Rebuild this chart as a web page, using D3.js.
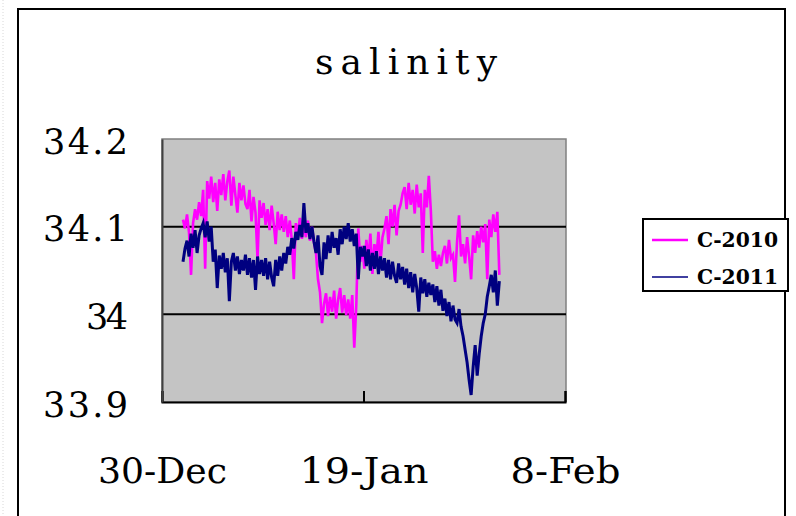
<!DOCTYPE html>
<html>
<head>
<meta charset="utf-8">
<script src="https://cdn.jsdelivr.net/npm/d3@7/dist/d3.min.js"></script>
<style>
  html, body { margin: 0; padding: 0; background: #ffffff; }
  svg { display: block; }
  text { font-family: "DejaVu Serif", "Liberation Serif", serif; fill: #000; }
</style>
</head>
<body>
<svg id="chart" width="796" height="516"></svg>
<script>
// Salinity records, one reading every 4.8 hours from 1 Jan 02:00
const seriesNames = ["C-2010", "C-2011"];
const seriesColors = ["#ff00ff", "#000080"];
const startTime = new Date(2011, 0, 1, 2, 0);
const stepHours = 4.8;

const c2010 = [
  34.108, 34.098, 34.114, 34.093, 34.045, 34.104, 34.120, 34.108, 34.128, 34.112,
  34.142, 34.052, 34.152, 34.132, 34.157, 34.128, 34.150, 34.118, 34.154, 34.136,
  34.160, 34.130, 34.152, 34.164, 34.124, 34.157, 34.136, 34.116, 34.150, 34.130,
  34.147, 34.126, 34.120, 34.142, 34.106, 34.134, 34.116, 34.062, 34.130, 34.110,
  34.127, 34.102, 34.120, 34.096, 34.124, 34.104, 34.080, 34.117, 34.096, 34.114,
  34.094, 34.112, 34.088, 34.107, 34.085, 34.040, 34.104, 34.090, 34.110, 34.086,
  34.102, 34.088, 34.107, 34.084, 34.100, 34.082, 34.070, 34.040, 34.025, 33.990,
  34.012, 34.024, 33.998, 34.020, 34.003, 34.027, 33.995, 34.017, 34.030, 34.002,
  34.022, 33.999, 34.017, 33.995, 34.022, 33.962, 34.010, 34.098, 34.060, 34.078,
  34.052, 34.085, 34.062, 34.092, 34.046, 34.080, 34.066, 34.094, 34.058, 34.088,
  34.098, 34.112, 34.080, 34.120, 34.100, 34.125, 34.090, 34.118, 34.125, 34.138,
  34.145, 34.120, 34.150, 34.125, 34.142, 34.115, 34.148, 34.122, 34.138, 34.070,
  34.142, 34.122, 34.158, 34.118, 34.060, 34.072, 34.052, 34.068, 34.055, 34.070,
  34.078, 34.058, 34.085, 34.064, 34.068, 34.037, 34.082, 34.113, 34.066, 34.080,
  34.058, 34.088, 34.066, 34.040, 34.090, 34.070, 34.095, 34.076, 34.100, 34.082,
  34.103, 34.040, 34.108, 34.088, 34.114, 34.094, 34.117, 34.045
];

const c2011 = [
  34.060, 34.075, 34.084, 34.066, 34.092, 34.076, 34.096, 34.070, 34.090, 34.098,
  34.104, 34.088, 34.106, 34.083, 34.100, 34.060, 34.074, 34.030, 34.067, 34.052,
  34.070, 34.048, 34.064, 34.015, 34.060, 34.070, 34.050, 34.066, 34.046, 34.062,
  34.050, 34.068, 34.045, 34.064, 34.042, 34.062, 34.028, 34.066, 34.046, 34.062,
  34.044, 34.064, 34.040, 34.060, 34.042, 34.032, 34.062, 34.044, 34.066, 34.050,
  34.070, 34.058, 34.077, 34.068, 34.087, 34.075, 34.094, 34.085, 34.102, 34.088,
  34.127, 34.093, 34.104, 34.086, 34.100, 34.083, 34.070, 34.090, 34.055, 34.045,
  34.082, 34.063, 34.090, 34.070, 34.094, 34.076, 34.087, 34.068, 34.097, 34.080,
  34.100, 34.086, 34.104, 34.083, 34.097, 34.078, 34.092, 34.040, 34.077, 34.066,
  34.078, 34.055, 34.074, 34.050, 34.070, 34.052, 34.072, 34.046, 34.066, 34.050,
  34.064, 34.042, 34.062, 34.040, 34.060, 34.044, 34.036, 34.058, 34.040, 34.054,
  34.034, 34.052, 34.030, 34.048, 34.025, 34.046, 34.030, 34.003, 34.042, 34.024,
  34.040, 34.020, 34.036, 34.022, 34.034, 34.014, 34.032, 34.010, 34.028, 34.004,
  34.018, 33.998, 34.014, 33.992, 34.010, 33.994, 33.990, 34.006, 33.986, 33.975,
  33.960, 33.945, 33.925, 33.908, 33.940, 33.965, 33.930, 33.955, 33.975, 33.990,
  34.000, 34.020, 34.032, 34.045, 34.025, 34.050, 34.010, 34.038
];

const yTicks = [33.9, 34.0, 34.1, 34.2];
const yTickLabels = ["33.9", "34", "34.1", "34.2"];
const xTicks = [new Date(2010, 11, 30), new Date(2011, 0, 19), new Date(2011, 1, 8)];
const xTickLabels = ["30-Dec", "19-Jan", "8-Feb"];

const svg = d3.select("#chart");

// page edge and chart frame
svg.append("line").attr("x1", 3).attr("x2", 3).attr("y1", 0).attr("y2", 516)
  .attr("stroke", "#d8d8d8").attr("stroke-dasharray", "1,2");
svg.append("rect").attr("x", 18).attr("y", 9).attr("width", 767).attr("height", 520)
  .attr("fill", "#fff").attr("stroke", "#000").attr("stroke-width", 2);

const plot = { left: 162, right: 566, top: 139, bottom: 402 };

const x = d3.scaleTime()
  .domain([xTicks[0], xTicks[2]])
  .range([plot.left, 565]);
const y = d3.scaleLinear()
  .domain([33.9, 34.2])
  .range([plot.bottom, plot.top]);

// plot background
svg.append("rect")
  .attr("x", plot.left).attr("y", plot.top)
  .attr("width", plot.right - plot.left).attr("height", plot.bottom - plot.top)
  .attr("fill", "#c4c4c4").attr("stroke", "#808080").attr("stroke-width", 1.5);

// gridlines
svg.append("g").selectAll("line")
  .data([34.0, 34.1])
  .join("line")
  .attr("x1", plot.left).attr("x2", plot.right)
  .attr("y1", d => y(d)).attr("y2", d => y(d))
  .attr("stroke", "#000").attr("stroke-width", 2);

// series
const toPoints = vals => vals.map((v, i) => ({
  date: new Date(startTime.getTime() + i * stepHours * 3600 * 1000),
  v
}));
const line = d3.line().x(d => x(d.date)).y(d => y(d.v));
[c2010, c2011].forEach((vals, k) => {
  svg.append("path")
    .datum(toPoints(vals))
    .attr("fill", "none")
    .attr("stroke", seriesColors[k])
    .attr("stroke-width", k === 0 ? 2.6 : 3)
    .attr("stroke-linejoin", "miter")
    .attr("d", line);
});

// axes
const xAxis = d3.axisBottom(x)
  .tickValues(xTicks)
  .tickSize(-11)
  .tickFormat((d, i) => xTickLabels[i]);
const gx = svg.append("g").attr("transform", `translate(0,${plot.bottom})`).call(xAxis);
gx.select(".domain").attr("stroke", "#000").attr("stroke-width", 2);
gx.selectAll(".tick line").attr("stroke", "#000").attr("stroke-width", 2);
gx.selectAll(".tick text")
  .attr("y", 81).attr("dy", 0)
  .style("font-family", '"DejaVu Serif", serif')
  .style("font-size", "36px")
  .attr("fill", "#000")
  .attr("textLength", (d, i) => [129, 129, 110][i])
  .attr("lengthAdjust", "spacingAndGlyphs");

const yAxis = d3.axisLeft(y)
  .tickValues(yTicks)
  .tickSize(0)
  .tickPadding(34)
  .tickFormat((d, i) => yTickLabels[i]);
const gy = svg.append("g").attr("transform", `translate(${plot.left},0)`).call(yAxis);
gy.select(".domain").attr("stroke", "#404040").attr("stroke-width", 2);
gy.selectAll(".tick text")
  .attr("dy", 14)
  .style("font-family", '"DejaVu Serif", serif')
  .style("font-size", "35px")
  .attr("fill", "#000")
  .attr("textLength", (d, i) => [85, 42, 85, 85][i])
  .attr("lengthAdjust", "spacing");

// title
svg.append("text")
  .attr("x", 315).attr("y", 74)
  .attr("textLength", 182).attr("lengthAdjust", "spacing")
  .style("font-size", "36px")
  .text("salinity");

// legend
const legend = svg.append("g");
legend.append("rect")
  .attr("x", 643).attr("y", 219).attr("width", 145).attr("height", 72)
  .attr("fill", "#fff").attr("stroke", "#000").attr("stroke-width", 2);
seriesNames.forEach((name, k) => {
  const ly = 240 + k * 37;
  legend.append("line")
    .attr("x1", 652).attr("x2", 688).attr("y1", ly).attr("y2", ly)
    .attr("stroke", seriesColors[k]).attr("stroke-width", k === 0 ? 2.5 : 1.5);
  legend.append("text")
    .attr("x", 697).attr("y", ly + 7)
    .attr("textLength", 81).attr("lengthAdjust", "spacingAndGlyphs")
    .style("font-size", "20px").style("font-weight", "bold")
    .text(name);
});
</script>
</body>
</html>
